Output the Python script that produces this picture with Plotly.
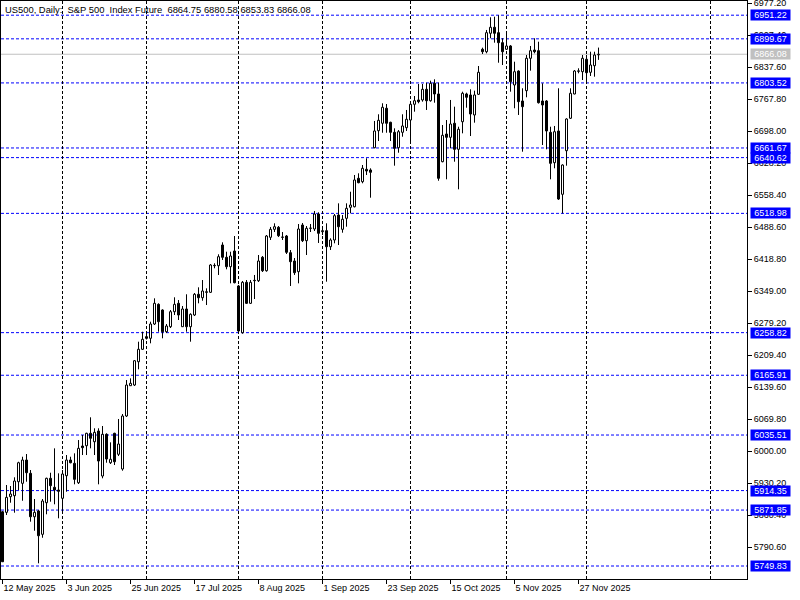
import plotly.graph_objects as go

# ---------------- data ----------------
bar_index = list(range(150))

open_ = [
    5868.2, 5866.9, 5901.0, 5903.2, 5933.7, 5930.2, 5981.0, 5952.0, 5857.3, 5869.8,
    5819.0, 5887.9, 5941.1, 5921.5, 5915.6, 5897.5, 5946.8, 5981.0, 5973.8, 5931.5,
    6011.6, 6012.2, 6039.3, 6020.9, 6044.3, 5946.1, 6037.1, 5975.1, 6039.3, 5993.5,
    5961.4, 6077.0, 6143.1, 6144.6, 6195.4, 6222.5, 6250.0, 6246.5, 6277.7, 6320.6,
    6308.2, 6260.9, 6271.8, 6304.5, 6322.8, 6271.8, 6310.4, 6271.8, 6297.3, 6342.5,
    6335.0, 6348.0, 6346.8, 6405.5, 6404.8, 6450.0, 6423.2, 6402.7, 6436.9, 6360.6,
    6258.7, 6368.6, 6322.8, 6373.0, 6372.1, 6423.2, 6393.9, 6466.8, 6484.2, 6488.6,
    6467.5, 6469.6, 6433.2, 6415.1, 6391.8, 6493.6, 6459.4, 6487.0, 6484.9, 6517.6,
    6479.0, 6481.2, 6446.3, 6460.9, 6515.4, 6484.2, 6508.2, 6532.2, 6533.5, 6595.5,
    6588.1, 6615.1, 6613.6, 6662.2, 6699.3, 6715.5, 6748.2, 6717.6, 6695.8, 6662.2,
    6695.8, 6705.9, 6722.6, 6756.9, 6766.3, 6766.3, 6789.6, 6764.7, 6802.7, 6779.4,
    6631.7, 6692.1, 6684.9, 6715.5, 6658.7, 6718.9, 6779.4, 6777.2, 6733.6, 6778.7,
    6876.9, 6871.6, 6911.8, 6924.9, 6913.1, 6891.3, 6876.9, 6884.1, 6799.0, 6829.5,
    6764.1, 6786.6, 6857.2, 6875.3, 6873.8, 6764.1, 6764.1, 6695.8, 6629.5, 6698.7,
    6560.6, 6655.7, 6726.4, 6779.4, 6828.8, 6828.0, 6855.1, 6826.7, 6841.1, 6864.75,
]

high = [
    5869.8, 5926.5, 5924.3, 5943.3, 5977.3, 5988.2, 5994.1, 5959.2, 5896.0, 5872.0,
    5896.0, 5942.5, 5953.3, 6006.5, 5952.0, 5959.2, 5991.9, 5988.2, 5995.6, 6024.6,
    6035.6, 6040.5, 6074.2, 6050.2, 6050.2, 6055.2, 6039.3, 6019.6, 6040.5, 6070.5,
    6081.4, 6155.5, 6159.2, 6199.1, 6239.1, 6260.9, 6255.9, 6282.7, 6333.7, 6322.8,
    6309.7, 6277.7, 6308.2, 6335.9, 6330.0, 6316.9, 6342.5, 6301.0, 6345.3, 6357.7,
    6373.6, 6355.5, 6408.5, 6410.1, 6429.7, 6455.9, 6435.4, 6435.4, 6469.6, 6362.8,
    6371.5, 6373.6, 6373.6, 6384.6, 6428.2, 6426.0, 6471.8, 6489.3, 6497.3, 6491.4,
    6478.3, 6471.8, 6439.1, 6421.6, 6495.8, 6498.0, 6491.4, 6495.8, 6524.2, 6521.3,
    6489.3, 6497.3, 6464.6, 6517.6, 6540.9, 6515.4, 6540.9, 6566.2, 6602.7, 6606.4,
    6624.5, 6639.1, 6617.3, 6720.5, 6735.1, 6759.1, 6757.5, 6718.9, 6704.5, 6700.8,
    6735.1, 6744.5, 6759.1, 6775.0, 6801.2, 6801.2, 6804.0, 6808.4, 6811.4, 6804.0,
    6711.7, 6722.6, 6766.3, 6751.7, 6708.0, 6784.4, 6782.2, 6789.6, 6786.6, 6840.4,
    6880.4, 6919.0, 6946.7, 6948.0, 6951.2, 6900.9, 6915.3, 6886.0, 6849.8, 6831.0,
    6791.8, 6864.4, 6884.1, 6900.9, 6893.4, 6802.7, 6766.0, 6708.0, 6709.6, 6791.8,
    6626.0, 6726.4, 6791.8, 6831.7, 6835.4, 6864.4, 6864.4, 6871.6, 6871.6, 6880.58,
]

low = [
    5758.5, 5861.1, 5887.9, 5866.1, 5915.6, 5892.2, 5933.7, 5846.5, 5826.8, 5755.7,
    5811.5, 5862.6, 5890.1, 5884.4, 5853.9, 5864.8, 5911.9, 5973.8, 5928.0, 5928.7,
    5991.9, 5991.9, 6006.5, 5991.9, 5928.0, 5941.1, 5975.1, 5972.3, 5970.1, 5989.7,
    5957.7, 6074.8, 6142.4, 6142.4, 6178.9, 6221.0, 6243.9, 6235.6, 6275.5, 6260.9,
    6246.5, 6258.0, 6268.9, 6297.3, 6286.4, 6271.1, 6260.9, 6239.1, 6295.1, 6322.8,
    6328.5, 6319.1, 6345.3, 6399.2, 6384.6, 6417.3, 6397.0, 6366.4, 6366.4, 6255.9,
    6256.5, 6321.3, 6321.3, 6332.2, 6369.3, 6391.1, 6391.8, 6460.9, 6478.3, 6467.4,
    6460.9, 6430.4, 6360.6, 6384.6, 6366.4, 6456.5, 6428.2, 6478.3, 6480.5, 6454.4,
    6471.8, 6370.0, 6439.1, 6453.7, 6450.0, 6476.8, 6489.9, 6519.1, 6532.0, 6584.6,
    6584.6, 6602.7, 6553.2, 6660.9, 6676.8, 6694.9, 6694.9, 6676.8, 6623.0, 6651.3,
    6686.2, 6698.7, 6673.1, 6740.8, 6759.1, 6762.6, 6744.5, 6762.6, 6760.4, 6590.2,
    6630.4, 6593.3, 6660.9, 6631.7, 6571.5, 6693.6, 6749.5, 6687.7, 6716.8, 6777.2,
    6866.6, 6868.1, 6900.9, 6891.3, 6847.6, 6842.6, 6875.3, 6784.4, 6748.2, 6733.6,
    6653.5, 6772.2, 6830.2, 6868.1, 6758.5, 6668.1, 6658.7, 6593.3, 6617.3, 6548.2,
    6519.0, 6623.0, 6724.8, 6778.7, 6824.5, 6809.9, 6804.0, 6818.6, 6817.1, 6853.83,
]

close = [
    5759.2, 5899.6, 5906.9, 5935.2, 5975.1, 5981.0, 5953.3, 5857.3, 5866.9, 5815.9,
    5891.6, 5941.1, 5925.0, 5915.6, 5912.8, 5950.5, 5981.0, 5975.1, 5938.9, 6006.5,
    6007.9, 6039.3, 6028.4, 6041.4, 5978.8, 6037.1, 5983.2, 5982.6, 5977.3, 6015.9,
    6077.0, 6144.6, 6148.3, 6197.6, 6222.5, 6244.3, 6246.5, 6277.7, 6322.8, 6282.7,
    6260.9, 6273.3, 6304.5, 6320.6, 6297.3, 6310.4, 6271.8, 6298.8, 6342.5, 6335.0,
    6349.7, 6346.8, 6406.4, 6404.8, 6424.5, 6423.2, 6402.7, 6426.0, 6367.8, 6262.4,
    6368.6, 6322.8, 6368.6, 6372.1, 6415.1, 6393.9, 6469.6, 6484.2, 6489.9, 6470.3,
    6466.8, 6434.1, 6413.6, 6389.6, 6484.9, 6459.4, 6486.4, 6486.4, 6517.6, 6475.5,
    6481.2, 6446.3, 6460.9, 6513.9, 6489.9, 6506.1, 6530.0, 6537.2, 6591.8, 6585.9,
    6617.3, 6611.4, 6608.6, 6698.7, 6722.0, 6750.4, 6715.5, 6695.8, 6660.9, 6697.1,
    6709.6, 6724.2, 6756.9, 6764.7, 6762.6, 6789.6, 6764.7, 6802.7, 6779.4, 6595.5,
    6689.3, 6684.9, 6713.9, 6658.7, 6702.4, 6780.9, 6772.2, 6735.7, 6777.2, 6826.7,
    6871.6, 6913.1, 6924.9, 6911.8, 6891.3, 6871.6, 6884.1, 6806.2, 6828.0, 6762.6,
    6751.7, 6857.2, 6873.8, 6871.6, 6760.4, 6755.4, 6698.7, 6628.2, 6697.1, 6550.3,
    6624.5, 6724.8, 6780.9, 6829.5, 6829.9, 6857.2, 6825.8, 6842.6, 6864.4, 6866.08,
]

date_tick_bars = [0, 16, 32, 48, 64, 80, 96, 112, 128, 144]
date_tick_labels = ["12 May 2025", "3 Jun 2025", "25 Jun 2025", "17 Jul 2025",
                    "8 Aug 2025", "1 Sep 2025", "23 Sep 2025", "15 Oct 2025",
                    "5 Nov 2025", "27 Nov 2025"]
month_grid_bars = [15, 36, 59, 80, 102, 126, 146, 177]

price_ticks = [6977.20, 6907.40, 6837.60, 6767.80, 6698.00, 6628.20, 6558.40,
               6488.60, 6418.80, 6349.00, 6279.20, 6209.40, 6139.60, 6069.80,
               6000.00, 5930.20, 5860.40, 5790.60]
level_prices = [6951.22, 6899.67, 6803.52, 6661.67, 6640.62, 6518.98,
                6258.82, 6165.91, 6035.51, 5914.35, 5871.85, 5749.83]
bid_price = 6866.08
header_text = ("US500, Daily:\u00a0\u00a0S&P 500\u00a0\u00a0Index Future\u00a0\u00a0"
               "6864.75 6880.58 6853.83 6866.08")

# ---------------- derived drawing arrays ----------------
body_base = [min(o, c) for o, c in zip(open_, close)]
body_height = [max(abs(c - o), 0.4) for o, c in zip(open_, close)]
body_fill = ["white" if c >= o else "black" for o, c in zip(open_, close)]

wick_x, wick_y = [], []
for i, o, h, l, c in zip(bar_index, open_, high, low, close):
    top, bot = max(o, c), min(o, c)
    if h > top:
        wick_x += [i, i, None]
        wick_y += [top, h, None]
    if l < bot:
        wick_x += [i, i, None]
        wick_y += [bot, l, None]

FONT = "Liberation Sans"
BLUE = "#0000ff"

fig = go.Figure()
fig.add_trace(go.Bar(
    x=bar_index, y=body_height, base=body_base, width=0.5,
    marker=dict(color=body_fill, line=dict(color="black", width=1)),
    hoverinfo="skip", showlegend=False,
))
fig.add_trace(go.Scatter(
    x=wick_x, y=wick_y, mode="lines",
    line=dict(color="black", width=1),
    hoverinfo="skip", showlegend=False,
))

shapes = []
for lv in level_prices:
    shapes.append(dict(type="line", xref="paper", x0=0, x1=1, yref="y", y0=lv, y1=lv,
                       line=dict(color=BLUE, width=1, dash="3px,2px"), layer="below"))
shapes.append(dict(type="line", xref="paper", x0=0, x1=1, yref="y", y0=bid_price, y1=bid_price,
                   line=dict(color="#c0c0c0", width=1), layer="below"))

annotations = []
for lv in level_prices:
    annotations.append(dict(
        x=1, xref="paper", xanchor="left", xshift=3, y=lv, yref="y", yanchor="middle",
        text=f"{lv:.2f}", showarrow=False, bgcolor=BLUE, borderpad=0,
        width=39, height=10, align="center",
        font=dict(family=FONT, size=9, color="white")))
annotations.append(dict(
    x=1, xref="paper", xanchor="left", xshift=3, y=bid_price, yref="y", yanchor="middle",
    text=f"{bid_price:.2f}", showarrow=False, bgcolor="#c0c0c0", borderpad=0,
    width=39, height=10, align="center",
    font=dict(family=FONT, size=9, color="white")))
annotations.append(dict(
    x=0, xref="paper", xanchor="left", xshift=2, y=1, yref="paper", yanchor="top", yshift=-1,
    text=header_text, showarrow=False, font=dict(family=FONT, size=9.4, color="black")))

fig.update_layout(
    width=800, height=600,
    margin=dict(l=1, r=53, t=1, b=21, autoexpand=False),
    paper_bgcolor="white", plot_bgcolor="white",
    showlegend=False, bargap=0, hovermode=False,
    font=dict(family=FONT, size=9, color="black"),
    shapes=shapes, annotations=annotations,
    xaxis=dict(
        range=[-0.375, 186.125], tickmode="array", tickvals=date_tick_bars,
        ticktext=date_tick_labels, ticks="outside", ticklen=4, tickcolor="black",
        ticklabelposition="outside right", ticklabeloverflow="allow",
        showgrid=False, zeroline=False, showline=True, linecolor="black",
        linewidth=1, mirror=True, fixedrange=True, automargin=False,
        tickfont=dict(family=FONT, size=9, color="black"),
        minor=dict(tickmode="array", tickvals=month_grid_bars, ticks="",
                   showgrid=True, gridcolor="black", gridwidth=1, griddash="3px,2px"),
    ),
    yaxis=dict(
        side="right", range=[5721.5, 6982.2], tickmode="array",
        tickvals=price_ticks, ticktext=[f"{p:.2f}" for p in price_ticks],
        ticks="outside", ticklen=4, tickcolor="black", ticklabeloverflow="allow",
        showgrid=False, zeroline=False, showline=True, linecolor="black",
        linewidth=1, mirror=True, fixedrange=True, automargin=False,
        tickfont=dict(family=FONT, size=9, color="black"),
    ),
)

fig.write_html(
    "out.html",
    config={"displayModeBar": False, "staticPlot": True},
    post_script="document.body.style.margin='0';document.body.style.overflow='hidden';",
)
